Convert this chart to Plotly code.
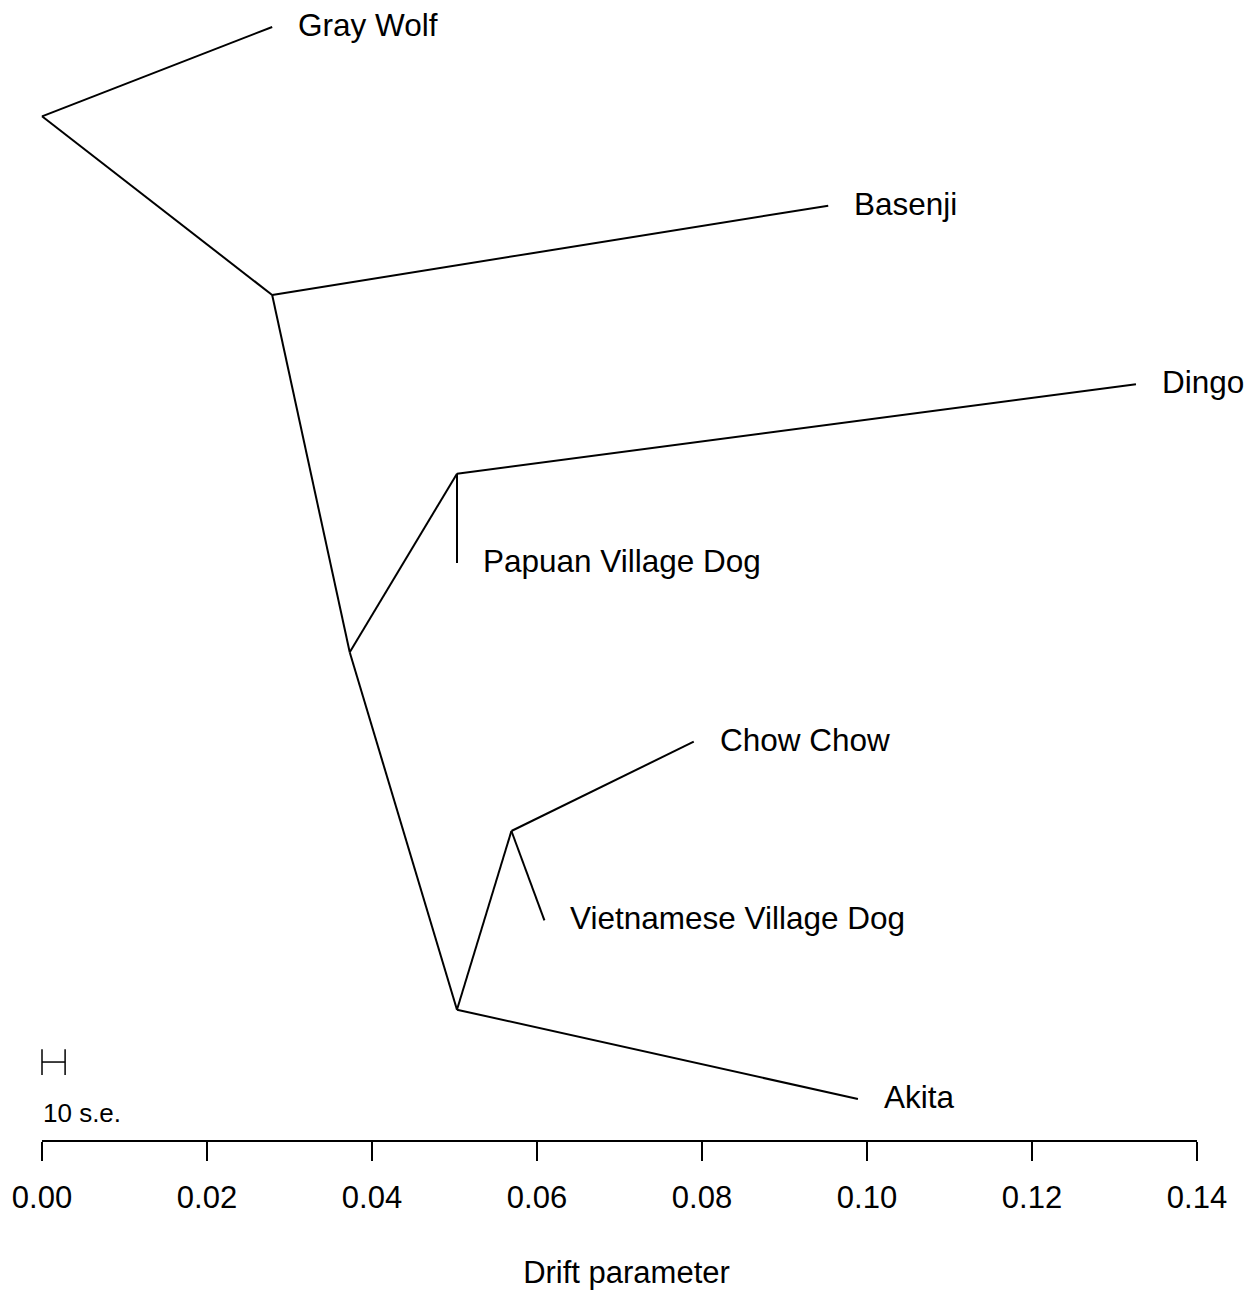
import plotly.graph_objects as go

# Tree nodes: drift (x) and vertical layout position (y)
node_names = ["root", "wolf_dog", "dog_split", "png_dingo", "east_asian", "chow_viet",
              "Gray Wolf", "Basenji", "Dingo", "Papuan Village Dog",
              "Chow Chow", "Vietnamese Village Dog", "Akita"]
node_drift = [0.0, 0.0279, 0.0373, 0.0503, 0.0503, 0.0569,
              0.0279, 0.0953, 0.1326, 0.0503,
              0.0790, 0.0609, 0.0989]
node_y = [6.5, 5.5, 3.5, 4.5, 1.5, 2.5,
          7, 6, 5, 4,
          3, 2, 1]

# Branches (parent, child)
edge_parent = ["root", "root", "wolf_dog", "wolf_dog", "dog_split", "dog_split",
               "png_dingo", "png_dingo", "east_asian", "east_asian", "chow_viet", "chow_viet"]
edge_child = ["Gray Wolf", "wolf_dog", "Basenji", "dog_split", "png_dingo", "east_asian",
              "Dingo", "Papuan Village Dog", "chow_viet", "Akita", "Chow Chow",
              "Vietnamese Village Dog"]

tip_names = ["Gray Wolf", "Basenji", "Dingo", "Papuan Village Dog",
             "Chow Chow", "Vietnamese Village Dog", "Akita"]

tick_vals = [0.00, 0.02, 0.04, 0.06, 0.08, 0.10, 0.12, 0.14]
scale_se = 0.0028      # length of 10 standard errors
scale_y = 1.207

FONT = "Liberation Sans, Arial, Helvetica, sans-serif"
idx = {n: i for i, n in enumerate(node_names)}

ex, ey = [], []
for p, c in zip(edge_parent, edge_child):
    ex += [node_drift[idx[p]], node_drift[idx[c]], None]
    ey += [node_y[idx[p]], node_y[idx[c]], None]

fig = go.Figure()
fig.add_trace(go.Scatter(x=ex, y=ey, mode="lines",
                         line=dict(color="black", width=2), hoverinfo="skip"))

# scale bar "H"
cap = 0.072
fig.add_trace(go.Scatter(
    x=[0, scale_se, None, 0, 0, None, scale_se, scale_se],
    y=[scale_y, scale_y, None, scale_y - cap, scale_y + cap, None,
       scale_y - cap, scale_y + cap],
    mode="lines", line=dict(color="black", width=1.5), hoverinfo="skip"))

annotations = []
for name in tip_names:
    i = idx[name]
    annotations.append(dict(x=node_drift[i], y=node_y[i], text=name, showarrow=False,
                            xanchor="left", yanchor="middle", xshift=24, yshift=2,
                            font=dict(family=FONT, size=31.5, color="black")))
annotations.append(dict(x=0, y=0.92, text="10 s.e.", showarrow=False,
                        xanchor="left", yanchor="middle", xshift=-1,
                        font=dict(family=FONT, size=26, color="black")))

# axis line spanning only the tick range
shapes = [dict(type="line", xref="x", yref="paper", x0=tick_vals[0], x1=tick_vals[-1],
               y0=0, y1=0, line=dict(color="black", width=2))]

fig.update_layout(
    width=1253, height=1290,
    margin=dict(l=0, r=0, t=0, b=149),
    plot_bgcolor="white", paper_bgcolor="white",
    showlegend=False,
    annotations=annotations, shapes=shapes,
    xaxis=dict(range=[-42 / 8250, 1211 / 8250], showgrid=False, zeroline=False,
               showline=False, ticks="outside", ticklen=19, tickwidth=2,
               tickcolor="black", tickvals=tick_vals, tickformat=".2f",
               ticklabelstandoff=10,
               tickfont=dict(family=FONT, size=31, color="black"),
               title=dict(text="Drift parameter", standoff=53,
                          font=dict(family=FONT, size=31, color="black"))),
    yaxis=dict(range=[0.765, 7.151], visible=False),
)

fig.write_html("out.html")
